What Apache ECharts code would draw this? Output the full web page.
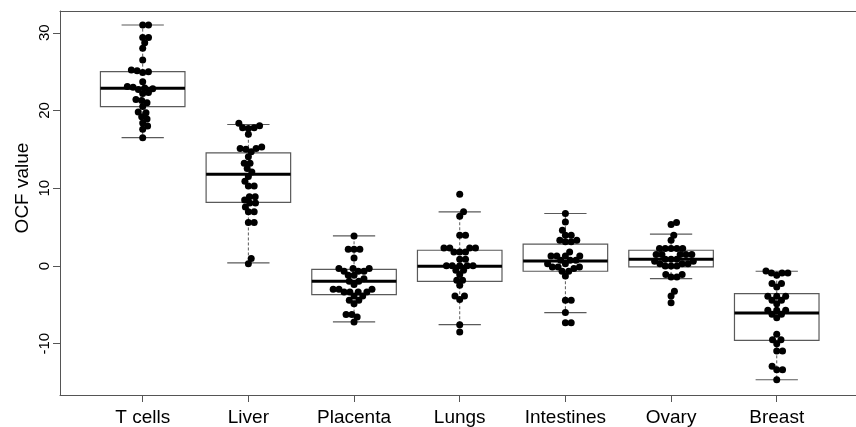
<!DOCTYPE html>
<html>
<head>
<meta charset="utf-8">
<script src="https://cdn.jsdelivr.net/npm/echarts@6/dist/echarts.min.js"></script>
<style>
  html, body { margin: 0; padding: 0; background: #fff; }
  #main { width: 856px; height: 427px; }
</style>
</head>
<body>
<div id="main"></div>
<script>
// categories and values
const categories = ['T cells', 'Liver', 'Placenta', 'Lungs', 'Intestines', 'Ovary', 'Breast'];
const yTicks = [-10, 0, 10, 20, 30];

const tcells = [31.0, 31.0, 29.4, 29.4, 28.7, 28.0, 26.5, 25.2, 25.1, 25.0, 24.9, 23.7, 23.1, 23.0, 22.9,
  22.8, 22.7, 22.3, 22.2, 21.4, 21.3, 21.0, 20.5, 19.8, 19.7, 19.2, 18.9, 18.4, 18.0, 17.6, 16.5];
const liver = [18.35, 18.04, 17.78, 17.78, 17.7, 16.93, 15.3, 15.1, 15.1, 15.0, 14.7, 14.05, 13.2, 13.2,
  12.55, 12.1, 11.5, 10.9, 10.3, 10.3, 8.9, 8.9, 8.47, 8.1, 8.1, 7.6, 6.96, 6.96, 5.6, 5.6, 0.95, 0.3];
const placenta = [3.87, 2.15, 2.15, 2.15, 1.03, -0.34, -0.34, -0.34, -0.68, -0.68, -0.68, -1.2, -1.2, -1.63,
  -1.97, -1.97, -2.4, -3.0, -3.0, -3.0, -3.35, -3.35, -3.35, -3.35, -3.87, -3.87, -4.42, -4.42, -4.85,
  -6.26, -6.26, -6.57, -7.2];
const lungs = [9.24, 6.96, 6.4, 3.96, 3.96, 2.32, 2.32, 2.32, 2.32, 1.8, 1.8, 1.8, 0.86, 0.86, 0.03, 0.03,
  0.03, 0.03, 0.03, -0.55, -0.55, -1.11, -1.84, -1.84, -2.49, -3.87, -3.87, -4.3, -7.55, -8.5];
const intestines = [6.75, 5.67, 4.6, 3.96, 3.96, 3.3, 3.3, 3.1, 3.1, 1.8, 1.29, 1.29, 1.29, 1.29, 0.73, 0.73,
  0.73, 0.3, 0.3, -0.13, -0.13, -0.13, -0.34, -0.68, -0.68, -1.29, -4.42, -4.42, -6.0, -7.3, -7.3];
const ovary = [5.59, 5.33, 3.96, 3.3, 2.24, 2.24, 2.24, 2.24, 2.24, 1.47, 1.47, 1.47, 1.47, 1.47, 0.86, 0.86,
  0.86, 0.6, 0.6, 0.3, 0.3, 0.3, 0.0, 0.0, 0.0, -1.11, -1.11, -1.42, -1.42, -3.26, -3.87, -4.72];
const breast = [-0.64, -0.9, -0.9, -0.9, -1.2, -2.27, -2.27, -2.7, -3.9, -3.9, -3.9, -4.42, -4.42, -4.85,
  -5.7, -5.7, -5.7, -6.22, -6.22, -6.65, -8.8, -9.49, -9.49, -10.0, -10.95, -10.95, -12.9, -13.35, -13.35,
  -14.64];
const groups = [tcells, liver, placenta, lungs, intestines, ovary, breast];

// box stats: [lower whisker, Q1, median, Q3, upper whisker]
const boxStats = [
  [16.5, 20.5, 22.86, 25.0, 31.0],
  [0.39, 8.17, 11.8, 14.56, 18.2],
  [-7.2, -3.69, -1.97, -0.43, 3.87],
  [-7.55, -1.97, -0.04, 2.02, 6.96],
  [-6.0, -0.68, 0.64, 2.8, 6.75],
  [-1.63, -0.13, 0.86, 2.02, 4.09],
  [-14.64, -9.57, -6.05, -3.56, -0.68]
];

const gridL = 60, gridT = 11, gridW = 796, gridH = 384;
const xMin = 0.2174, xMax = 7.75, yMin = -16.6, yMax = 32.8;
const pxX = gridW / (xMax - xMin), pxY = gridH / (yMax - yMin);

// simple beeswarm: place each point as close to the centre as it can go
function swarm(vals, d) {
  const order = vals.map((v, i) => i).sort((a, b) => vals[a] - vals[b]);
  const placed = [];
  const out = new Array(vals.length);
  order.forEach(i => {
    const y = vals[i] * pxY;
    let cands = [0];
    placed.forEach(p => {
      const dy = Math.abs(p.y - y);
      if (dy < d) {
        const off = Math.sqrt(d * d - dy * dy);
        cands.push(p.x + off, p.x - off);
      }
    });
    cands.sort((a, b) => Math.abs(a) - Math.abs(b));
    let x = 0;
    for (const c of cands) {
      const ok = placed.every(p => (p.x - c) * (p.x - c) + (p.y - y) * (p.y - y) >= d * d - 0.01);
      if (ok) { x = c; break; }
    }
    placed.push({ x: x, y: y });
    out[i] = x / pxX;
  });
  return out;
}

const points = [];
groups.forEach((g, gi) => {
  const offs = swarm(g, 5.8);
  g.forEach((v, i) => points.push([gi + 1 + offs[i], v]));
});

const boxData = boxStats.map((s, i) => [i + 1].concat(s));

const chart = echarts.init(document.getElementById('main'), null, { renderer: 'canvas' });
const font = "'Liberation Sans', Arial, Helvetica, sans-serif";
const frame = '#555';

const option = {
  animation: false,
  grid: { left: gridL, top: gridT, width: gridW, height: gridH },
  xAxis: [{
    type: 'value', min: xMin, max: xMax,
    axisLine: { show: true, onZero: false, lineStyle: { color: frame, width: 1 } },
    axisTick: { show: true, customValues: [1, 2, 3, 4, 5, 6, 7], length: 7, lineStyle: { color: frame } },
    axisLabel: {
      customValues: [1, 2, 3, 4, 5, 6, 7], margin: 13,
      color: '#000', fontSize: 19, fontFamily: font,
      formatter: v => categories[Math.round(v) - 1]
    },
    splitLine: { show: false }
  }, {
    type: 'value', min: xMin, max: xMax, position: 'top',
    axisLine: { show: true, onZero: false, lineStyle: { color: frame, width: 1 } },
    axisTick: { show: false }, axisLabel: { show: false }, splitLine: { show: false }
  }],
  yAxis: {
    type: 'value', min: yMin, max: yMax,
    axisLine: { show: true, onZero: false, lineStyle: { color: frame, width: 1 } },
    axisTick: { show: true, customValues: yTicks, length: 7, lineStyle: { color: frame } },
    axisLabel: {
      customValues: yTicks, rotate: 90, margin: 8,
      color: '#000', fontSize: 15, fontFamily: font
    },
    splitLine: { show: false }
  },
  graphic: [{
    type: 'text', x: 23, y: 188, rotation: Math.PI / 2,
    style: {
      text: 'OCF value', fontSize: 19, fontFamily: font, fill: '#000',
      textAlign: 'center', textVerticalAlign: 'middle'
    }
  }],
  series: [{
    type: 'custom',
    data: boxData,
    z: 2,
    renderItem: function (params, api) {
      const x = api.value(0);
      const lo = api.value(1), q1 = api.value(2), md = api.value(3), q3 = api.value(4), hi = api.value(5);
      const c = (xx, yy) => api.coord([xx, yy]);
      const line = (a, b, style) => ({
        type: 'line',
        shape: { x1: a[0], y1: a[1], x2: b[0], y2: b[1] },
        style: style
      });
      const grey = { stroke: '#5a5a5a', lineWidth: 1.2 };
      const dash = { stroke: '#5a5a5a', lineWidth: 1, lineDash: [3, 2] };
      const tl = c(x - 0.4, q3), br = c(x + 0.4, q1);
      return {
        type: 'group',
        children: [
          line(c(x, q3), c(x, hi), dash),
          line(c(x, q1), c(x, lo), dash),
          line(c(x - 0.2, hi), c(x + 0.2, hi), grey),
          line(c(x - 0.2, lo), c(x + 0.2, lo), grey),
          {
            type: 'rect',
            shape: { x: tl[0], y: tl[1], width: br[0] - tl[0], height: br[1] - tl[1] },
            style: { fill: 'transparent', stroke: '#5a5a5a', lineWidth: 1.2 }
          },
          line(c(x - 0.4, md), c(x + 0.4, md), { stroke: '#000', lineWidth: 3 })
        ]
      };
    }
  }, {
    type: 'scatter',
    data: points,
    z: 5,
    symbol: 'circle',
    symbolSize: 7,
    itemStyle: { color: '#000', opacity: 1 }
  }]
};
chart.setOption(option);
</script>
</body>
</html>
